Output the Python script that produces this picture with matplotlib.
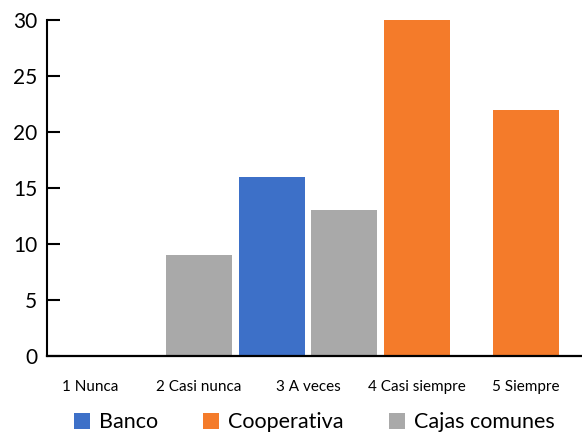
import numpy as np
import matplotlib.pyplot as plt
import matplotlib
from matplotlib.patches import Patch

matplotlib.rcParams['font.family'] = ['Lato', 'DejaVu Sans']

# -------------------- datos --------------------
categorias = ["1 Nunca", "2 Casi nunca", "3 A veces", "4 Casi siempre", "5 Siempre"]
banco = [0, 0, 16, 0, 0]
cooperativa = [0, 0, 0, 30, 22]
cajas = [0, 9, 13, 0, 0]
series = ["Banco", "Cooperativa", "Cajas comunes"]
colores = ["#3D70C8", "#F47B2A", "#A9A9A9"]

valores = [banco, cooperativa, cajas]

# -------------------- figura --------------------
fig = plt.figure(figsize=(5.82, 4.36), dpi=100)
ax = fig.add_axes([0.0808, 0.1835, 0.9192, 0.7706])

x = np.arange(1, len(categorias) + 1)
ancho = 0.6055
hueco = 0.064

# solo se dibujan las barras con valor, centradas en su categoria
for i in range(len(categorias)):
    activos = [(k, valores[k][i]) for k in range(len(series)) if valores[k][i] > 0]
    n = len(activos)
    for j, (k, v) in enumerate(activos):
        off = (j - (n - 1) / 2) * (ancho + hueco)
        ax.bar(x[i] + off, v, ancho, color=colores[k], zorder=2)

ax.set_xlim(0.6055, 5.514)
ax.set_ylim(0, 30)
ax.set_yticks(range(0, 31, 5))
ax.set_xticks(x)
ax.set_xticklabels(categorias, fontsize=11)
ax.tick_params(axis='x', length=0, pad=17)
ax.tick_params(axis='y', direction='in', length=9.5, width=1.5, labelsize=15, pad=7)

for s in ['top', 'right']:
    ax.spines[s].set_visible(False)
ax.spines['left'].set_linewidth(1.5)
ax.spines['bottom'].set_linewidth(1.6)
ax.spines['bottom'].set_zorder(3)

handles = [Patch(facecolor=c, edgecolor='none') for c in colores]
fig.legend(handles, series, loc='center', bbox_to_anchor=(0.54, 0.031), ncol=3,
           frameon=False, fontsize=15.5, handlelength=0.75, handleheight=0.75,
           handletextpad=0.4, columnspacing=2.1)

fig.savefig("out.png", dpi=100)
